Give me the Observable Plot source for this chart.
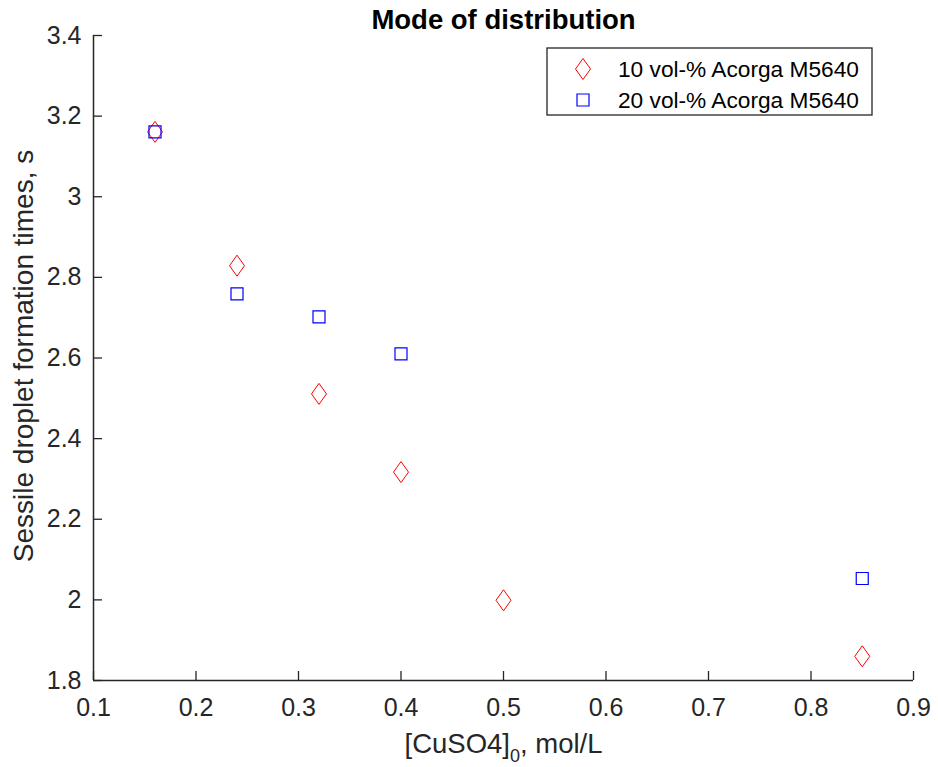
<!DOCTYPE html>
<html>
<head>
<meta charset="utf-8">
<script src="https://cdn.jsdelivr.net/npm/d3@7"></script>
<script src="https://cdn.jsdelivr.net/npm/@observablehq/plot@0.6"></script>
<style>
  html, body { margin: 0; padding: 0; background: white; }
  svg { display: block; }
</style>
</head>
<body>
<div id="chart"></div>
<script>
// ---- data ----
const conc10 = [0.16, 0.24, 0.32, 0.40, 0.50, 0.85];
const time10 = [3.161, 2.829, 2.511, 2.317, 1.999, 1.860];
const conc20 = [0.16, 0.24, 0.32, 0.40, 0.85];
const time20 = [3.161, 2.759, 2.702, 2.610, 2.053];
const seriesNames = ["10 vol-% Acorga M5640", "20 vol-% Acorga M5640"];
const xTicks = [0.1, 0.2, 0.3, 0.4, 0.5, 0.6, 0.7, 0.8, 0.9];
const yTicks = [1.8, 2, 2.2, 2.4, 2.6, 2.8, 3, 3.2, 3.4];
const titleText = "Mode of distribution";
const xLabelMain = "[CuSO4]";
const xLabelSub = "0";
const xLabelTail = ", mol/L";
const yLabelText = "Sessile droplet formation times, s";

const s10 = conc10.map((x, i) => ({x, y: time10[i]}));
const s20 = conc20.map((x, i) => ({x, y: time20[i]}));

const axisColor = "#262626";
const FONT = "'Liberation Sans', Arial, Helvetica, sans-serif";

// MATLAB-like marker symbols
const diamondSym = {
  draw(ctx, size) {
    const r = Math.sqrt(size / Math.PI);
    const h = r * 1.05, w = r * 0.75;
    ctx.moveTo(0, -h); ctx.lineTo(w, 0); ctx.lineTo(0, h); ctx.lineTo(-w, 0); ctx.closePath();
  }
};
const squareSym = {
  draw(ctx, size) {
    const r = Math.sqrt(size / Math.PI);
    const s = r * 0.6;
    ctx.moveTo(-s, -s); ctx.lineTo(s, -s); ctx.lineTo(s, s); ctx.lineTo(-s, s); ctx.closePath();
  }
};

const xMin = xTicks[0], yMin = yTicks[0];
const xTickLen = 0.0088; // ~9px in x data units
const yTickLen = 0.0224; // ~9px in y data units

const chart = Plot.plot({
  width: 938,
  height: 767,
  marginLeft: 93,
  marginRight: 25,
  marginTop: 35,
  marginBottom: 87,
  style: {fontFamily: FONT, background: "white", overflow: "visible"},
  x: {domain: [xTicks[0], xTicks[xTicks.length - 1]]},
  y: {domain: [yTicks[0], yTicks[yTicks.length - 1]]},
  marks: [
    Plot.axisX({ticks: xTicks, tickSize: 0, tickPadding: 18, fontSize: 25, tickFormat: d => String(d), label: null, color: axisColor}),
    Plot.axisY({ticks: yTicks, tickSize: 0, tickPadding: 12, fontSize: 25, tickFormat: d => String(d), label: null, color: axisColor}),
    // inward ticks
    Plot.ruleX(xTicks, {x: d => d, y1: yMin, y2: yMin + yTickLen, stroke: axisColor, strokeWidth: 1.3}),
    Plot.ruleY(yTicks, {y: d => d, x1: xMin, x2: xMin + xTickLen, stroke: axisColor, strokeWidth: 1.3}),
    // axis lines
    Plot.ruleX([xMin], {stroke: axisColor, strokeWidth: 1.5}),
    Plot.ruleY([yMin], {stroke: axisColor, strokeWidth: 1.5}),
    // data
    Plot.dot(s10, {x: "x", y: "y", symbol: diamondSym, r: 10, stroke: "#ff0000", strokeWidth: 1, fill: "none"}),
    Plot.dot(s20, {x: "x", y: "y", symbol: squareSym, r: 10, stroke: "#0000ff", strokeWidth: 1.2, fill: "none"}),
    // title & labels
    Plot.text([titleText], {frameAnchor: "top", dy: -15, textAnchor: "middle", lineAnchor: "middle", fontSize: 27.5, fontWeight: "bold", fill: "black"}),
    Plot.text([yLabelText], {frameAnchor: "left", dx: -69, dy: -2, textAnchor: "middle", lineAnchor: "middle", rotate: -90, fontSize: 28, fill: axisColor}),
    Plot.text([xLabelMain + xLabelSub + xLabelTail], {frameAnchor: "bottom", dy: 64, dx: 0, textAnchor: "middle", lineAnchor: "middle", fontSize: 27.5, fill: axisColor})
  ]
});

document.getElementById("chart").appendChild(chart);

// subscript in x label
const svg = d3.select(chart);
svg.selectAll("text").filter(function() { return this.textContent === xLabelMain + xLabelSub + xLabelTail; })
  .each(function() {
    const t = d3.select(this);
    t.text(null);
    t.append("tspan").text(xLabelMain);
    t.append("tspan").attr("dy", 9).attr("font-size", 18).text(xLabelSub);
    t.append("tspan").attr("dy", -9).text(xLabelTail);
  });

// legend box
const lg = svg.append("g").attr("font-family", FONT).attr("text-anchor", "start");
const lx = 547, ly = 48, lw = 325, lh = 67;
lg.append("rect").attr("x", lx).attr("y", ly).attr("width", lw).attr("height", lh)
  .attr("fill", "white").attr("stroke", axisColor).attr("stroke-width", 1.3);
const rows = [
  {name: seriesNames[0], sym: diamondSym, color: "#ff0000", sw: 1, y: ly + 21},
  {name: seriesNames[1], sym: squareSym, color: "#0000ff", sw: 1.2, y: ly + 52}
];
for (const r of rows) {
  lg.append("path")
    .attr("d", d3.symbol(r.sym, Math.PI * 100)())
    .attr("transform", `translate(${lx + 36},${r.y})`)
    .attr("fill", "none").attr("stroke", r.color).attr("stroke-width", r.sw);
  lg.append("text").attr("x", lx + 71).attr("y", r.y).attr("dy", "0.35em")
    .attr("text-anchor", "start")
    .attr("font-size", 22.7).attr("fill", "black").text(r.name);
}
</script>
</body>
</html>
